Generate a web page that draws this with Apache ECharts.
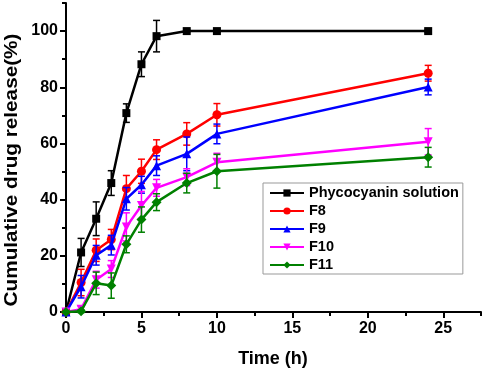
<!DOCTYPE html>
<html>
<head>
<meta charset="utf-8">
<script src="https://cdn.jsdelivr.net/npm/echarts@6/dist/echarts.min.js"></script>
<style>
html,body{margin:0;padding:0;background:#fff;}
#c{width:484px;height:371px;}
</style>
</head>
<body>
<div id="c"></div>
<script>
var times = [0, 1, 2, 3, 4, 5, 6, 8, 10, 24];
var phyco = [0, 21.2, 33.2, 45.9, 70.8, 88.2, 98.2, 100, 100, 100];
var phycoErr = [0, 5, 6, 4.4, 3.3, 4.4, 5.6, 0.6, 0.6, 0.6];
var f8 = [0, 10.5, 22, 25.8, 43.9, 50.1, 57.8, 63.4, 70.2, 85.0];
var f8Err = [0, 4.7, 4, 3.6, 4.7, 4.3, 3.5, 4, 4, 2.8];
var f9 = [0, 9.0, 20.2, 23.8, 40.3, 45.3, 52.1, 56.3, 63.4, 80.1];
var f9Err = [0, 4, 3.5, 3.5, 4, 3, 3.5, 6, 3.5, 2.8];
var f10 = [0, 1.0, 11.5, 15.3, 30.3, 37.9, 44.2, 48.0, 53.3, 60.6];
var f10Err = [0, 1, 3, 3, 5, 5, 3, 3, 3.2, 4.7];
var f11 = [0, 0.3, 10.2, 9.4, 24.1, 32.9, 39.1, 45.9, 50.1, 55.1];
var f11Err = [0, 0.5, 4, 4.5, 3, 4.5, 3, 3.5, 6, 3.5];
var names = ['Phycocyanin solution', 'F8', 'F9', 'F10', 'F11'];
var xMajor = [0, 5, 10, 15, 20, 25];
var xMinor = [2.5, 7.5, 12.5, 17.5, 22.5, 27.5];
var yMajor = [0, 20, 40, 60, 80, 100];
var yMinor = [10, 30, 50, 70, 90, 110];

var colors = ['#000000', '#ff0000', '#0000ff', '#ff00ff', '#008000'];
var symbols = ['rect', 'circle', 'triangle', 'triangle', 'diamond'];
var symRot = [0, 0, 0, 180, 0];
var symSize = [8, 9, 9, 9, 10];
var vals = [phyco, f8, f9, f10, f11];
var errs = [phycoErr, f8Err, f9Err, f10Err, f11Err];

var FONT = '"Liberation Sans", Arial, sans-serif';
var chart = echarts.init(document.getElementById('c'), null, {renderer: 'canvas'});

var series = [];
for (var s = 0; s < 5; s++) {
  (function (s) {
    var errData = times.map(function (t, i) { return [t, vals[s][i], errs[s][i]]; });
    series.push({
      type: 'custom',
      name: names[s] + '_err',
      xAxisIndex: 0, yAxisIndex: 0,
      data: errData,
      z: 2 + s * 2,
      silent: true,
      renderItem: function (params, api) {
        var x = api.value(0), y = api.value(1), e = api.value(2);
        var top = api.coord([x, y + e]);
        var bot = api.coord([x, y - e]);
        var hw = 3.5;
        var st = {stroke: colors[s], lineWidth: 1.5, fill: null};
        return {
          type: 'group',
          children: [
            {type: 'line', shape: {x1: top[0], y1: top[1], x2: bot[0], y2: bot[1]}, style: st},
            {type: 'line', shape: {x1: top[0] - hw, y1: top[1], x2: top[0] + hw, y2: top[1]}, style: st},
            {type: 'line', shape: {x1: bot[0] - hw, y1: bot[1], x2: bot[0] + hw, y2: bot[1]}, style: st}
          ]
        };
      }
    });
    series.push({
      type: 'line',
      name: names[s],
      xAxisIndex: 0, yAxisIndex: 0,
      data: times.map(function (t, i) { return [t, vals[s][i]]; }),
      symbol: symbols[s],
      symbolRotate: symRot[s],
      symbolSize: symSize[s],
      showAllSymbol: true,
      z: 3 + s * 2,
      lineStyle: {color: colors[s], width: 2.5},
      itemStyle: {color: colors[s], borderWidth: 0},
      emphasis: {disabled: true},
      animation: false
    });
  })(s);
}

var axisLabelStyle = {fontFamily: FONT, fontWeight: 'bold', fontSize: 16, color: '#000'};

chart.setOption({
  animation: false,
  backgroundColor: '#fff',
  grid: {left: 66, right: 3, top: 3, bottom: 59, containLabel: false},
  xAxis: [{
    type: 'value', min: 0, max: 27.5, interval: 2.5,
    axisLine: {show: true, onZero: false, lineStyle: {color: '#000', width: 2}},
    axisTick: {show: true, inside: false, length: 6, lineStyle: {color: '#000', width: 2}, customValues: xMajor},
    axisLabel: Object.assign({margin: 9, customValues: xMajor}, axisLabelStyle),
    splitLine: {show: false}
  }, {
    type: 'value', min: 0, max: 27.5, interval: 2.5, position: 'bottom',
    axisLine: {show: false, onZero: false},
    axisTick: {show: true, inside: false, length: 4, lineStyle: {color: '#000', width: 2}, customValues: xMinor},
    axisLabel: {show: false},
    splitLine: {show: false}
  }],
  yAxis: [{
    type: 'value', min: 0, max: 110, interval: 10,
    axisLine: {show: true, onZero: false, lineStyle: {color: '#000', width: 2}},
    axisTick: {show: true, inside: false, length: 6, lineStyle: {color: '#000', width: 2}, customValues: yMajor},
    axisLabel: Object.assign({margin: 8, customValues: yMajor}, axisLabelStyle),
    splitLine: {show: false}
  }, {
    type: 'value', min: 0, max: 110, interval: 10, position: 'left',
    axisLine: {show: false, onZero: false},
    axisTick: {show: true, inside: false, length: 4, lineStyle: {color: '#000', width: 2}, customValues: yMinor},
    axisLabel: {show: false},
    splitLine: {show: false}
  }],
  legend: {
    data: names,
    orient: 'vertical',
    left: 263, top: 183,
    padding: [2, 4, 1, 6],
    itemGap: 2,
    itemWidth: 34, itemHeight: 9,
    borderColor: '#999', borderWidth: 1,
    backgroundColor: '#fff',
    textStyle: {fontFamily: FONT, fontWeight: 'bold', fontSize: 14.5, color: '#000', lineHeight: 16},
    selectedMode: false
  },
  graphic: [{
    type: 'text',
    x: 273, y: 359,
    style: {text: 'Time (h)', fontFamily: FONT, fontWeight: 'bold', fontSize: 18, fill: '#000', align: 'center', verticalAlign: 'middle'}
  }, {
    type: 'text',
    x: 12, y: 170,
    rotation: Math.PI / 2,
    scaleX: 1.09,
    style: {text: 'Cumulative drug release(%)', fontFamily: FONT, fontWeight: 'bold', fontSize: 19, fill: '#000', align: 'center', verticalAlign: 'middle'}
  }],
  series: series
});
</script>
</body>
</html>
